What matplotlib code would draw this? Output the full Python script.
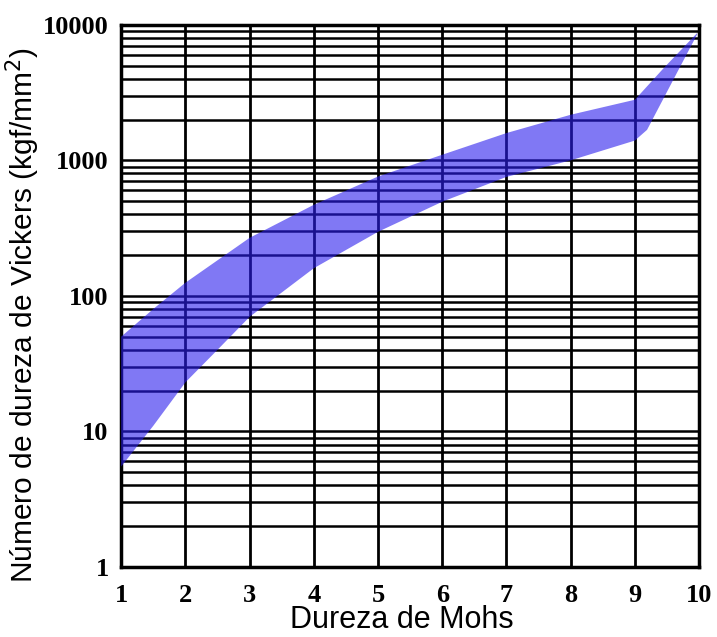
import matplotlib
matplotlib.use("Agg")
import matplotlib.pyplot as plt
import numpy as np

# Data
mohs_upper = [1, 1.5, 2, 3, 4, 5, 6, 7, 8, 9, 9.45, 9.97]
vickers_upper = [50, 80, 125, 268, 470, 760, 1100, 1590, 2170, 2800, 4800, 8700]
mohs_lower = [1, 1.5, 2, 2.5, 3, 4, 5, 6, 7, 8, 9, 9.19, 9.68, 9.97]
vickers_lower = [5.5, 11, 23, 40, 70, 160, 297, 495, 755, 1000, 1400, 1680, 4660, 8500]

x_ticks = [1, 2, 3, 4, 5, 6, 7, 8, 9, 10]
y_ticks = [1, 10, 100, 1000, 10000]
y_tick_labels = ["1", "10", "100", "1000", "10000"]

fig = plt.figure(figsize=(7.17, 6.37), dpi=100)
ax = fig.add_axes([0.169, 0.110, 0.806, 0.851])
ax.set_yscale("log")
ax.set_xlim(1, 10)
ax.set_ylim(1, 10000)

# grid lines (vertical at integers, horizontal at 1..9 x 10^k)
for xv in x_ticks:
    ax.axvline(xv, color="black", lw=2.0, zorder=1)
for k in range(4):
    for m in range(1, 10):
        ax.axhline(m * 10 ** k, color="black", lw=1.8, zorder=1)

# band
xs = np.array(mohs_upper + mohs_lower[::-1])
ys = np.array(vickers_upper + vickers_lower[::-1])
ax.fill(xs, ys, color="#2b1eee", alpha=0.6, lw=0, zorder=3)

for s in ax.spines.values():
    s.set_linewidth(2.5)
    s.set_color("black")

ax.set_xticks(x_ticks)
ax.set_xticklabels([str(v) for v in x_ticks], family="Liberation Serif",
                   fontsize=19, fontweight="bold")
ax.set_yticks(y_ticks)
ax.set_yticklabels(y_tick_labels, family="Liberation Serif",
                   fontsize=19, fontweight="bold")
ax.yaxis.set_minor_locator(matplotlib.ticker.NullLocator())
ax.tick_params(axis="x", length=0, pad=12)
ax.tick_params(axis="y", length=0, pad=9)

ax.set_xlabel("Dureza de Mohs", family="Liberation Sans", fontsize=22)
ax.xaxis.set_label_coords(0.485, -0.071)
ax.set_ylabel("Número de dureza de Vickers (kgf/mm$^2$)", family="Liberation Sans",
              fontsize=21.5)
ax.yaxis.set_label_coords(-0.137, 0.465)

fig.savefig("out.png", dpi=100)
